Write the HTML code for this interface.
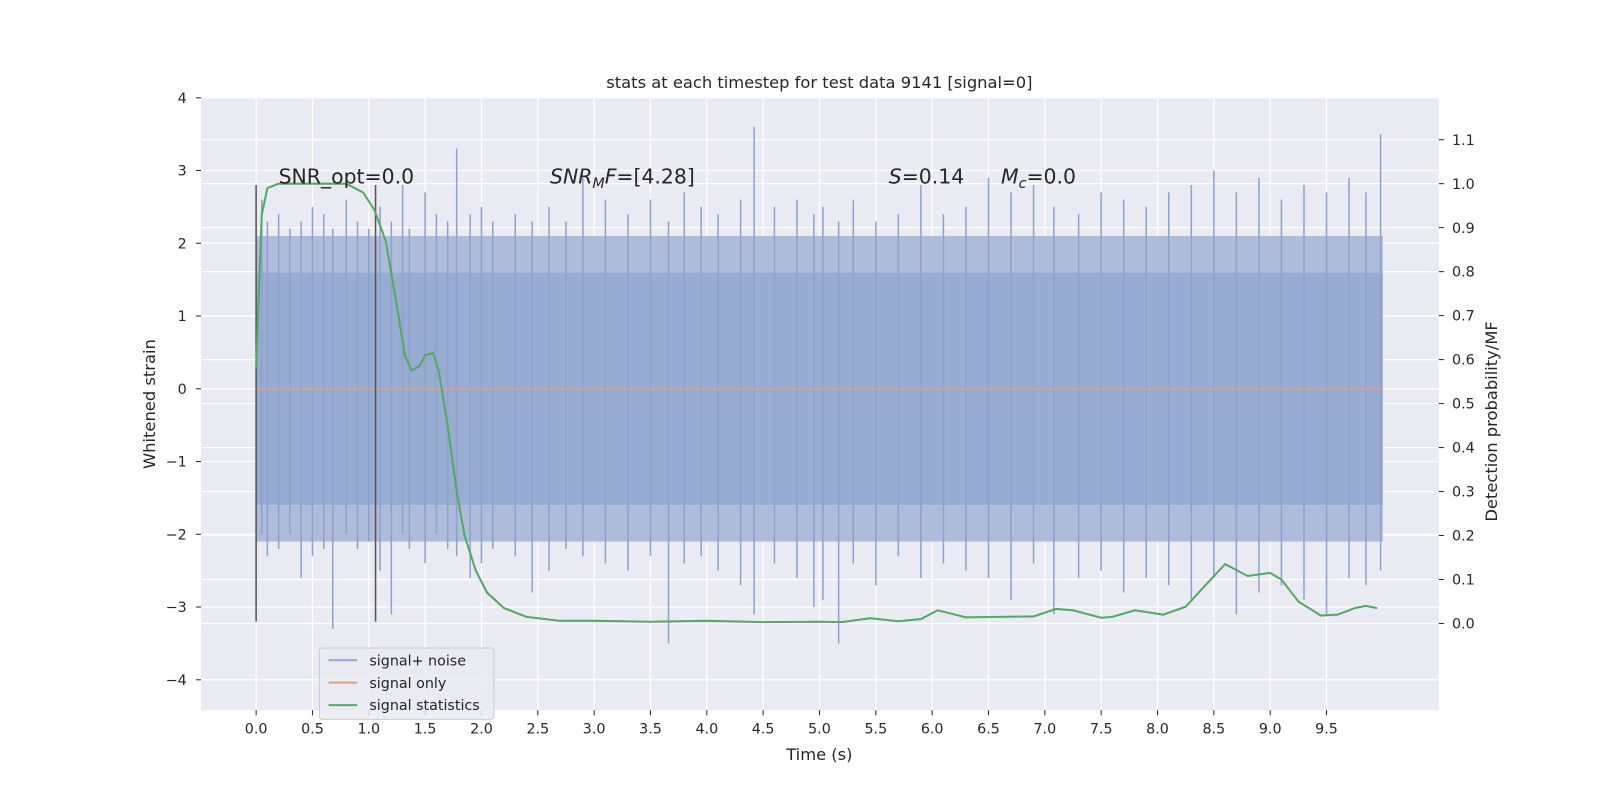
<!DOCTYPE html>
<html><head><meta charset="utf-8">
<style>
html,body{margin:0;padding:0;width:1600px;height:800px;overflow:hidden;background:#fff;}
svg{display:block;font-family:"DejaVu Sans","Liberation Sans",sans-serif;}
</style></head>
<body>
<svg id="chart" width="1600" height="800" viewBox="0 0 1568 784" xmlns="http://www.w3.org/2000/svg" style="position:absolute;left:0;top:0"></svg>
<script>
// ---- data ----
const xTicks = [0,0.5,1,1.5,2,2.5,3,3.5,4,4.5,5,5.5,6,6.5,7,7.5,8,8.5,9,9.5];
const yTicks = [-4,-3,-2,-1,0,1,2,3,4];
const probTicks = [0,0.1,0.2,0.3,0.4,0.5,0.6,0.7,0.8,0.9,1.0,1.1];
const bandTimes = [0,10];
const bandUpper = [1.6,1.6];
const bandLower = [-1.6,-1.6];
const spikeTimes = [0.05,0.1,0.2,0.3,0.4,0.5,0.6,0.68,0.8,0.9,1.0,1.1,1.2,1.3,1.36,1.5,1.6,1.7,1.78,1.9,2.0,2.1,2.3,2.45,2.6,2.75,2.9,3.1,3.3,3.5,3.66,3.8,3.95,4.1,4.3,4.42,4.6,4.8,4.95,5.03,5.17,5.3,5.5,5.7,5.9,6.1,6.3,6.5,6.7,6.9,7.08,7.3,7.5,7.7,7.9,8.1,8.3,8.5,8.7,8.9,9.1,9.3,9.5,9.7,9.85,9.98];
const spikeHigh = [2.6,2.3,2.4,2.2,2.3,2.5,2.4,2.2,2.6,2.3,2.2,2.5,2.3,2.8,2.2,2.7,2.4,2.3,3.3,2.4,2.5,2.3,2.4,2.3,2.5,2.3,2.9,2.6,2.4,2.6,2.3,2.7,2.5,2.4,2.6,3.6,2.5,2.6,2.4,2.5,2.3,2.6,2.3,2.4,2.8,2.4,2.5,2.9,2.7,2.8,2.5,2.4,2.7,2.6,2.5,2.7,2.8,3.0,2.7,2.9,2.6,2.8,2.7,2.9,2.7,3.5];
const spikeLow = [-2.0,-2.3,-2.2,-2.0,-2.6,-2.3,-2.2,-3.3,-2.0,-2.2,-2.1,-2.5,-3.1,-2.0,-2.2,-2.4,-2.0,-2.2,-2.3,-2.6,-2.4,-2.2,-2.3,-2.8,-2.5,-2.2,-2.3,-2.4,-2.5,-2.3,-3.5,-2.4,-2.3,-2.5,-2.7,-3.1,-2.4,-2.6,-3.0,-2.9,-3.5,-2.4,-2.7,-2.3,-2.6,-2.4,-2.5,-2.6,-2.9,-2.4,-3.1,-2.6,-2.5,-2.8,-2.6,-2.7,-2.9,-2.6,-3.1,-2.8,-2.7,-2.9,-3.1,-2.6,-2.7,-2.5];
const statTimes = [0,0.05,0.1,0.2,0.5,0.8,0.95,1.05,1.15,1.25,1.32,1.38,1.45,1.5,1.57,1.62,1.7,1.78,1.85,1.95,2.05,2.2,2.4,2.7,3.0,3.5,4.0,4.5,5.0,5.2,5.45,5.7,5.9,6.05,6.3,6.6,6.9,7.1,7.25,7.5,7.6,7.8,8.05,8.25,8.4,8.6,8.8,9.0,9.1,9.25,9.45,9.6,9.75,9.85,9.95];
const statValues = [0.58,0.93,0.99,1.0,1.0,1.0,0.98,0.94,0.87,0.72,0.61,0.575,0.585,0.61,0.615,0.575,0.45,0.3,0.2,0.12,0.07,0.035,0.015,0.006,0.006,0.004,0.006,0.003,0.004,0.003,0.012,0.005,0.01,0.03,0.014,0.015,0.016,0.033,0.03,0.013,0.015,0.03,0.02,0.038,0.08,0.135,0.108,0.115,0.1,0.05,0.018,0.02,0.035,0.04,0.035];
const markerTimes = [0,1.06];

// ---- axes ----
const L=197,R=1410,T=96,B=696;
const X=t=>251+t*110.42;
const Y=v=>381-v*71.3;
const P=p=>611-p*431;
const svg=document.getElementById('chart');
const NS='http://www.w3.org/2000/svg';
function mk(tag,attrs,parent){const e=document.createElementNS(NS,tag);for(const k in attrs)e.setAttribute(k,attrs[k]);(parent||svg).appendChild(e);return e;}

const bg=mk('rect',{x:L,y:T,width:R-L,height:B-T,fill:'#eaeaf2'});


const grid=mk('g',{stroke:'#fff','stroke-width':1.2});


xTicks.forEach(t=>mk('line',{x1:X(t),x2:X(t),y1:T,y2:B},grid));
yTicks.forEach(v=>mk('line',{x1:L,x2:R,y1:Y(v),y2:Y(v)},grid));
probTicks.forEach(p=>mk('line',{x1:L,x2:R,y1:P(p),y2:P(p)},grid));

// noise
const noise=mk('g',{});


mk('rect',{x:X(bandTimes[0]),y:Y(bandUpper[0]),width:X(bandTimes[1])-X(bandTimes[0]),height:Y(bandLower[0])-Y(bandUpper[0]),fill:'#98abd0'},noise);
mk('rect',{x:X(bandTimes[0]),y:Y(2.1),width:X(bandTimes[1])-X(bandTimes[0]),height:Y(1.6)-Y(2.1),fill:'#aebbdb'},noise);
mk('rect',{x:X(bandTimes[0]),y:Y(-1.6),width:X(bandTimes[1])-X(bandTimes[0]),height:Y(-2.1)-Y(-1.6),fill:'#aebbdb'},noise);
spikeTimes.forEach((t,i)=>{
  mk('line',{x1:X(t),x2:X(t),y1:Y(spikeHigh[i]),y2:Y(spikeLow[i]),stroke:'#8da2cc','stroke-width':1.5},noise);
});
const sig=mk('line',{x1:X(0),x2:X(10),y1:Y(0),y2:Y(0),stroke:'#dd9f86','stroke-width':1.5});


markerTimes.forEach(t=>{
  const m=mk('line',{x1:X(t),x2:X(t),y1:Y(2.8),y2:Y(-3.2),stroke:'#555','stroke-width':1.5});
  
  
});
const stat=mk('polyline',{points:statTimes.map((t,i)=>X(t)+','+P(statValues[i])).join(' '),fill:'none',stroke:'#55a868','stroke-width':2});



// tick marks + labels
const tm=mk('g',{stroke:'#262626','stroke-width':1});


xTicks.forEach(t=>mk('line',{x1:X(t),x2:X(t),y1:B,y2:B+5},tm));
yTicks.forEach(v=>mk('line',{x1:L-5,x2:L,y1:Y(v),y2:Y(v)},tm));
probTicks.forEach(p=>mk('line',{x1:R,x2:R+5,y1:P(p),y2:P(p)},tm));
const tk=mk('g',{'font-size':14,fill:'#262626'});


xTicks.forEach(t=>{const e=mk('text',{x:X(t),y:719,'text-anchor':'middle'},tk);e.textContent=t.toFixed(1);});
yTicks.forEach(v=>{const e=mk('text',{x:183,y:Y(v)+5,'text-anchor':'end'},tk);e.textContent=v<0?'\u2212'+(-v):String(v);});
probTicks.forEach(p=>{const e=mk('text',{x:1423,y:P(p)+5},tk);e.textContent=p.toFixed(1);});
</script>
<svg style="position:absolute;left:0;top:0" width="1600" height="800" viewBox="0 0 1568 784" font-family="DejaVu Sans, Liberation Sans, sans-serif" fill="#262626">
<text x="803" y="86" font-size="16" text-anchor="middle">stats at each timestep for test data 9141 [signal=0]</text>
<text x="803" y="745" font-size="16" text-anchor="middle">Time (s)</text>
<text transform="translate(152,396) rotate(-90)" font-size="16" text-anchor="middle">Whitened strain</text>
<text transform="translate(1467,413) rotate(-90)" font-size="16" text-anchor="middle">Detection probability/MF</text>
<text x="273" y="180" font-size="20">SNR_opt=0.0</text>
<text x="539" y="180" font-size="20"><tspan font-style="italic">SNR</tspan><tspan font-size="14" dy="4" font-style="italic">M</tspan><tspan dy="-4" font-style="italic">F</tspan>=[4.28]</text>
<text x="871" y="180" font-size="20"><tspan font-style="italic">S</tspan>=0.14</text>
<text x="981" y="180" font-size="20"><tspan font-style="italic">M</tspan><tspan font-size="14" dy="4" font-style="italic">c</tspan><tspan dy="-4">=0.0</tspan></text>
<g>
<rect x="313" y="635" width="171" height="70" rx="3" fill="#eaeaf2" fill-opacity="0.85" stroke="#ccc"/>
<line x1="322" x2="350" y1="647" y2="647" stroke="#98abd0" stroke-width="2"/>
<text x="362" y="652" font-size="14">signal+ noise</text>
<line x1="322" x2="350" y1="669" y2="669" stroke="#dd9f86" stroke-width="2"/>
<text x="362" y="674" font-size="14">signal only</text>
<line x1="322" x2="350" y1="691" y2="691" stroke="#55a868" stroke-width="2"/>
<text x="362" y="696" font-size="14">signal statistics</text>
</g>
</svg>
</body></html>
